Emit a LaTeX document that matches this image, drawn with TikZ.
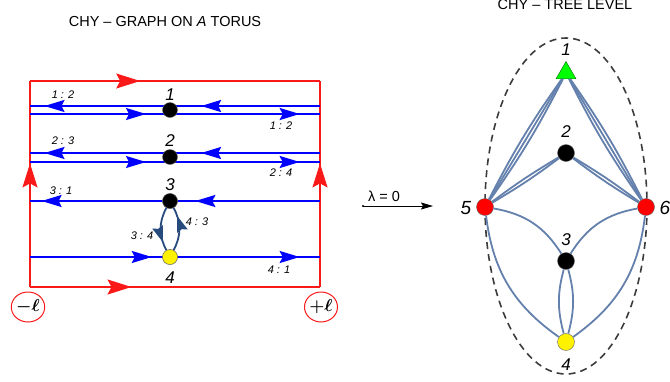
\documentclass[tikz,border=0pt]{standalone}
\usepackage{bm}
\usepackage{fontspec}
\setmainfont{Liberation Sans}
\usetikzlibrary{arrows.meta,decorations.markings,shapes.geometric}
\definecolor{torusred}{RGB}{250,25,25}
\definecolor{wireblue}{RGB}{0,0,255}
\definecolor{loopblue}{RGB}{40,75,125}
\definecolor{edgeblue}{RGB}{100,128,172}
\definecolor{ovalgray}{RGB}{60,60,60}
\begin{document}
\begin{tikzpicture}[x=1pt,y=-1pt,
  bluetip/.style={postaction={decorate,decoration={markings,
    mark=at position #1 with {\arrow{Stealth[length=20pt,width=12pt,inset=3pt]}}}}},
  redtip/.style={postaction={decorate,decoration={markings,
    mark=at position #1 with {\arrow{Stealth[length=24pt,width=15pt,inset=4pt]}}}}},
  looptip/.style={postaction={decorate,decoration={markings,
    mark=at position #1 with {\arrow{Stealth[length=16pt,width=11pt,inset=2pt]}}}}},
  torus/.style={draw=torusred,line width=1.5pt},
  wire/.style={draw=wireblue,line width=2pt},
  loopedge/.style={draw=loopblue,line width=1.8pt},
  edge/.style={draw=edgeblue,line width=1.8pt},
  vtx/.style={circle,draw=black!60,line width=0.4pt,minimum size=15pt,inner sep=0pt},
  bigvtx/.style={vtx,minimum size=17pt},
  num/.style={font=\fontsize{17}{17}\selectfont\itshape,inner sep=0pt},
  wlab/.style={font=\fontsize{11}{11}\selectfont\itshape,inner sep=0pt},
  title/.style={font=\fontsize{14.5}{15}\selectfont,inner sep=0pt},
  ends/.style={ellipse,draw=torusred,line width=1pt,minimum width=33pt,minimum height=30pt,inner sep=0pt,
    font=\fontsize{18}{18}\selectfont}]
\useasboundingbox (0,0) rectangle (670,381);

% ---------- left: graph on a torus ----------
\node[title] (ttorus) at (165,22) {CHY – GRAPH ON \textit{A} TORUS};

% corners of the cell
\coordinate (bl) at (30,287);
\coordinate (br) at (320,287);
\coordinate (tl) at (30,81);
\coordinate (tr) at (320,81);
\draw[torus,redtip=0.38] (tl) -- (tr);
\draw[torus,redtip=0.35] (bl) -- (br);
\draw[torus,redtip=0.6] (bl) -- (tl);
\draw[torus,redtip=0.6] (br) -- (tr);

% punctures
\coordinate (p1) at (170,110);
\coordinate (p2) at (170,157);
\coordinate (p3) at (170,201);
\coordinate (p4) at (170,257);

% wires, ends on the red sides
\coordinate (w1aR) at (320,106); \coordinate (w1aL) at (30,106);
\coordinate (w1bL) at (30,114);  \coordinate (w1bR) at (320,114);
\coordinate (w2aR) at (320,153); \coordinate (w2aL) at (30,153);
\coordinate (w2bL) at (30,162);  \coordinate (w2bR) at (320,162);
\coordinate (w3R) at (320,201);  \coordinate (w3L) at (30,201);
\coordinate (w4L) at (30,257);   \coordinate (w4R) at (320,257);
\draw[wire,bluetip=0.41,bluetip=0.95] (w1aR) -- (w1aL);
\draw[wire,bluetip=0.40,bluetip=0.93] (w1bL) -- (w1bR);
\draw[wire,bluetip=0.41,bluetip=0.95] (w2aR) -- (w2aL);
\draw[wire,bluetip=0.40,bluetip=0.93] (w2bL) -- (w2bR);
\draw[wire,bluetip=0.43,bluetip=0.96] (w3R) -- (w3L);
\draw[wire,bluetip=0.42,bluetip=0.93] (w4L) -- (w4R);

% loop between 3 and 4
\node[vtx] (q3) at (p3) {};
\node[vtx] (q4) at (p4) {};
\draw[loopedge,looptip=0.80] (q3) to[bend right=28] (q4);
\draw[loopedge,looptip=0.80] (q4) to[bend right=28] (q3);

% punctures on top
\node[vtx,fill=black] (n1) at (p1) {};
\node[vtx,fill=black] (n2) at (p2) {};
\node[vtx,fill=black] (n3) at (p3) {};
\node[vtx,fill=yellow] (n4) at (p4) {};

% labels
\node[num] (lp1) at (170,95) {1};
\node[num] (lp2) at (170,141) {2};
\node[num] (lp3) at (170,185) {3};
\node[num] (lp4) at (170,278) {4};
\node[wlab] (l12a) at (63,95) {1 : 2};
\node[wlab] (l12b) at (281,126) {1 : 2};
\node[wlab] (l23) at (63,141) {2 : 3};
\node[wlab] (l24) at (281,173) {2 : 4};
\node[wlab] (l31) at (61,191) {3 : 1};
\node[wlab] (l34) at (142,236) {3 : 4};
\node[wlab] (l43) at (197,222) {4 : 3};
\node[wlab] (l41) at (279,270) {4 : 1};
\node[ends] (minus) at (28,307) {$\bm{-\ell}$};
\node[ends] (plus) at (321,307) {$\bm{+\ell}$};

% ---------- limit ----------
\coordinate (lam0) at (363,206);
\coordinate (lam1) at (433,206);
\fill (lam0) circle (1.2);
\draw[line width=0.9pt,-{Stealth[length=12pt,width=7pt,inset=2pt]}] (lam0) -- (lam1);
\node[font=\fontsize{14.5}{15}\selectfont] (lam) at (384,196) {λ = 0};

% ---------- right: tree level ----------
\node[title] (ttree) at (565,5) {CHY – TREE LEVEL};
\coordinate (oval) at (566,206);
\draw[ovalgray,dash pattern=on 7pt off 5pt,line width=1.6pt] (oval) ellipse [x radius=81,y radius=168];

\node[regular polygon,regular polygon sides=3,draw=green!40!black,line width=0.4pt,fill=green,
  minimum size=23pt,inner sep=0pt] (t1) at (566,73) {};
\node[bigvtx,fill=black] (t2) at (566,153) {};
\node[bigvtx,fill=red] (t5) at (485,207) {};
\node[bigvtx,fill=red] (t6) at (646,207) {};
\node[bigvtx,fill=black] (t3) at (566,261) {};
\node[bigvtx,fill=yellow] (t4) at (566,342) {};

% edges
\draw[edge] (t1) to[bend left=4] (t5);
\draw[edge] (t1) -- (t5);
\draw[edge] (t1) to[bend right=4] (t5);
\draw[edge] (t1) to[bend left=4] (t6);
\draw[edge] (t1) -- (t6);
\draw[edge] (t1) to[bend right=4] (t6);
\draw[edge] (t2) to[bend left=3] (t5);
\draw[edge] (t2) to[bend right=3] (t5);
\draw[edge] (t2) to[bend left=3] (t6);
\draw[edge] (t2) to[bend right=3] (t6);
\draw[edge] (t5) to[bend left=24] (t3);
\draw[edge] (t6) to[bend right=24] (t3);
\draw[edge] (t5) to[bend right=24] (t4);
\draw[edge] (t6) to[bend left=24] (t4);
\draw[edge] (t3) to[bend left=15] (t4);
\draw[edge] (t3) to[bend right=15] (t4);

\node[num] (lt1) at (566,50) {1};
\node[num] (lt2) at (566,132) {2};
\node[num] (lt3) at (566,240) {3};
\node[num] (lt4) at (566,365) {4};
\node[num,font=\fontsize{19}{19}\selectfont\itshape] (lt5) at (466,208) {5};
\node[num,font=\fontsize{19}{19}\selectfont\itshape] (lt6) at (665,208) {6};
\end{tikzpicture}
\end{document}
